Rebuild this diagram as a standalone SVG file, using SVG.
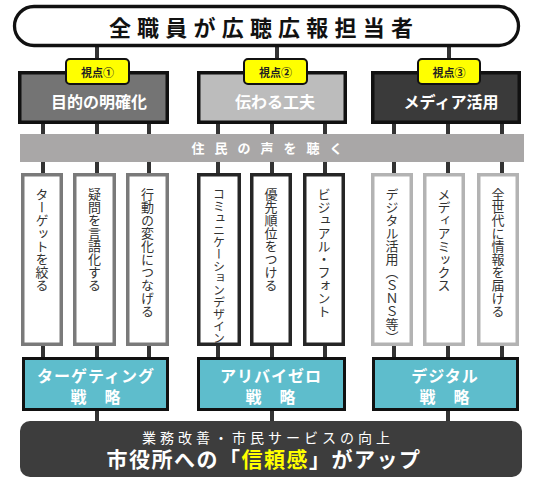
<svg xmlns="http://www.w3.org/2000/svg" width="540" height="483" viewBox="0 0 540 483">
<style>
text{font-family:"Noto Sans CJK JP","Noto Sans",sans-serif}
.conn{stroke:#333;stroke-width:4;fill:none}
.tag{fill:#ffff00;stroke:#111;stroke-width:2}
.tagt{font-size:11px;font-weight:bold;fill:#222;text-anchor:middle}
.vp{stroke:#111;stroke-width:3.5}
.vpt{font-size:16px;font-weight:bold;fill:#fff;text-anchor:middle}
.card{fill:#fff;stroke-width:3.5}
.g1{stroke:#7a7a7a}.g2{stroke:#262626}.g3{stroke:#b3b3b3}
.vt{font-size:13px;fill:#333;writing-mode:vertical-rl}
.st{fill:#5ebdcc;stroke:#111;stroke-width:3}
.stt{font-size:16px;font-weight:bold;fill:#fff;text-anchor:middle;letter-spacing:1px}
</style>
<g id="connectors">
<line class="conn" x1="97" y1="46" x2="97" y2="60"/>
<line class="conn" x1="277" y1="46" x2="277" y2="60"/>
<line class="conn" x1="449" y1="46" x2="449" y2="60"/>
<line class="conn" x1="43" y1="122" x2="43" y2="176"/>
<line class="conn" x1="97" y1="122" x2="97" y2="176"/>
<line class="conn" x1="149" y1="122" x2="149" y2="176"/>
<line class="conn" x1="218" y1="122" x2="218" y2="176"/>
<line class="conn" x1="272" y1="122" x2="272" y2="176"/>
<line class="conn" x1="325" y1="122" x2="325" y2="176"/>
<line class="conn" x1="394" y1="122" x2="394" y2="176"/>
<line class="conn" x1="448" y1="122" x2="448" y2="176"/>
<line class="conn" x1="502" y1="122" x2="502" y2="176"/>
<line class="conn" x1="43" y1="344" x2="43" y2="359"/>
<line class="conn" x1="97" y1="344" x2="97" y2="359"/>
<line class="conn" x1="149" y1="344" x2="149" y2="359"/>
<line class="conn" x1="218" y1="344" x2="218" y2="359"/>
<line class="conn" x1="272" y1="344" x2="272" y2="359"/>
<line class="conn" x1="325" y1="344" x2="325" y2="359"/>
<line class="conn" x1="394" y1="344" x2="394" y2="359"/>
<line class="conn" x1="448" y1="344" x2="448" y2="359"/>
<line class="conn" x1="502" y1="344" x2="502" y2="359"/>
<line class="conn" x1="97" y1="410" x2="97" y2="423"/>
<line class="conn" x1="272" y1="410" x2="272" y2="423"/>
<line class="conn" x1="448" y1="410" x2="448" y2="423"/>
</g>
<g id="title">
<rect x="14.5" y="6.5" width="504" height="39" rx="19.5" fill="#fff" stroke="#111" stroke-width="3.3"/>
<text x="264" y="36" font-size="22" font-weight="bold" fill="#111" text-anchor="middle" letter-spacing="6.2">全職員が広聴広報担当者</text>
</g>
<g id="vp1">
<rect class="vp" x="19.75" y="72.75" width="147.5" height="49.5" fill="#747474"/>
<rect class="tag" x="66" y="59" width="63" height="25" rx="4"/>
<text class="tagt" x="97.5" y="77">視点①</text>
<text class="vpt" x="99" y="108">目的の明確化</text>
</g>
<g id="vp2">
<rect class="vp" x="198.75" y="72.75" width="146.5" height="49.5" fill="#bcbcbc"/>
<rect class="tag" x="244" y="59" width="63" height="25" rx="4"/>
<text class="tagt" x="275.5" y="77">視点②</text>
<text class="vpt" x="275" y="108">伝わる工夫</text>
</g>
<g id="vp3">
<rect class="vp" x="372.75" y="72.75" width="146.5" height="49.5" fill="#3a3a3a"/>
<rect class="tag" x="418" y="59" width="62" height="25" rx="4"/>
<text class="tagt" x="449" y="77">視点③</text>
<text class="vpt" x="451" y="108">メディア活用</text>
</g>
<g id="band">
<rect x="20" y="134" width="504" height="28" fill="#a9a7a7"/>
<text x="272" y="153" font-size="13" font-weight="bold" fill="#fff" text-anchor="middle" letter-spacing="10">住民の声を聴く</text>
</g>
<g id="card1"><rect class="card g1" x="22.75" y="174.75" width="38.5" height="169.5"/><text class="vt" x="42" y="188">ターゲットを絞る</text></g>
<g id="card2"><rect class="card g1" x="74.75" y="174.75" width="39.5" height="169.5"/><text class="vt" x="94.5" y="188">疑問を言語化する</text></g>
<g id="card3"><rect class="card g1" x="127.75" y="174.75" width="39.5" height="169.5"/><text class="vt" x="147.5" y="188">行動の変化につなげる</text></g>
<g id="card4"><rect class="card g2" x="198.75" y="174.75" width="40.5" height="169.5"/><text class="vt" x="219" y="188" style="font-size:12px">コミュニケーションデザイン</text></g>
<g id="card5"><rect class="card g2" x="251.75" y="174.75" width="38.5" height="169.5"/><text class="vt" x="271" y="188">優先順位をつける</text></g>
<g id="card6"><rect class="card g2" x="304.75" y="174.75" width="38.5" height="169.5"/><text class="vt" x="324" y="188">ビジュアル・フォント</text></g>
<g id="card7"><rect class="card g3" x="372.75" y="174.75" width="38.5" height="169.5"/><text class="vt" x="392" y="188">デジタル活用（ＳＮＳ等）</text></g>
<g id="card8"><rect class="card g3" x="424.75" y="174.75" width="38.5" height="169.5"/><text class="vt" x="444" y="188">メディアミックス</text></g>
<g id="card9"><rect class="card g3" x="478.75" y="174.75" width="38.5" height="169.5"/><text class="vt" x="498" y="188">全世代に情報を届ける</text></g>
<g id="strategy1"><rect class="st" x="23.5" y="358.5" width="144" height="51"/><text class="stt" x="96" y="382">ターゲティング</text><text class="stt" x="96" y="403" letter-spacing="3">戦　略</text></g>
<g id="strategy2"><rect class="st" x="198.5" y="358.5" width="146" height="51"/><text class="stt" x="271" y="382">アリバイゼロ</text><text class="stt" x="271" y="403" letter-spacing="3">戦　略</text></g>
<g id="strategy3"><rect class="st" x="373.5" y="358.5" width="144" height="51"/><text class="stt" x="445" y="382">デジタル</text><text class="stt" x="445" y="403" letter-spacing="3">戦　略</text></g>
<g id="result">
<rect x="20" y="421" width="502" height="56" rx="10" fill="#3d3d3d"/>
<text x="268" y="443" font-size="14" fill="#fff" text-anchor="middle" letter-spacing="4">業務改善・市民サービスの向上</text>
<text x="264" y="467" font-size="21" font-weight="bold" fill="#fff" text-anchor="middle" letter-spacing="1.5">市役所への「<tspan fill="#ffff00">信頼感</tspan>」がアップ</text>
</g>
</svg>
